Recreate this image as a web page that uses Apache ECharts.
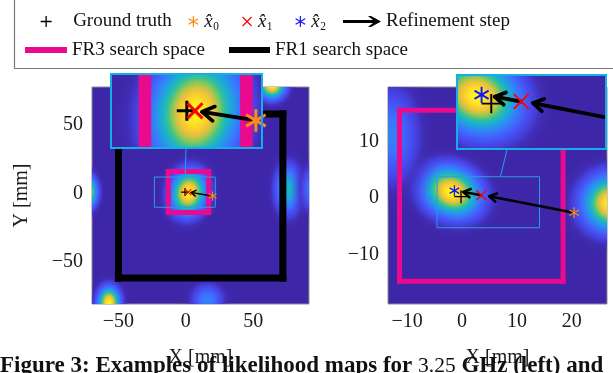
<!DOCTYPE html>
<html><head><meta charset="utf-8">
<script src="https://cdn.jsdelivr.net/npm/echarts@6/dist/echarts.min.js"></script>
<style>html,body{margin:0;padding:0;background:#fff}#c{width:613px;height:373px}</style>
</head><body><div id="c"></div>
<script>
// ---------------- data ----------------
const leftXTicks = [-50, 0, 50];
const leftYTicks = [-50, 0, 50];
const rightXTicks = [-10, 0, 10, 20];
const rightYTicks = [-10, 0, 10];

const leftXRange = [-69.6, 91.4];
const leftYRange = [-81.0, 77.8];
const rightXRange = [-13.5, 26.4];
const rightYRange = [-18.7, 19.6];
const leftZoomX = [-23.3, 21.9];
const leftZoomY = [-10.2, 11.9];
const rightZoomX = [-4.56, 14.1];
const rightZoomY = [-5.24, 3.76];
const leftLinkX = [-0.6, -0.85];   // [main, inset] x of connector (mm)
const rightLinkX = [6.97, 1.74];

// likelihood peaks (mm): centre, spread, tilt, peak level
const leftBlobX = [2, -73, -57, 64, 76, 16, 96];
const leftBlobY = [0.5, 1, -80, 79, 3, -78, 3];
const leftBlobSx = [8, 4.5, 5, 6, 6, 7, 6];
const leftBlobSy = [10, 7, 7, 6, 11, 7, 10];
const leftBlobAngle = [-10, 0, 0, 0, 0, 0, 0];
const leftBlobPeak = [1, 0.9, 1, 1, 0.5, 0.3, 0.35];

const rightBlobX = [-1.9, 27.2, -13];
const rightBlobY = [1.1, -0.9, 11];
const rightBlobSx = [3.3, 3.2, 3];
const rightBlobSy = [2.6, 3.0, 5];
const rightBlobAngle = [-25, 0, 0];
const rightBlobPeak = [1, 1, 0.3];

// search spaces (mm)
const fr1X = [-50, 72, 72, -50, -50];
const fr1Y = [58, 58, -62, -62, 58];
const leftFr3X = [-13.0, 17.0, 17.0, -13.0, -13.0];
const leftFr3Y = [15.9, 15.9, -14.0, -14.0, 15.9];
const rightFr3X = [-11.4, 18.4, 18.4, -11.4, -11.4];
const rightFr3Y = [15.5, 15.5, -14.7, -14.7, 15.5];

// estimates (mm)
const leftTruthX = [-0.6], leftTruthY = [0.9];
const leftEst0X = [19.8], leftEst0Y = [-1.9];
const leftEst1X = [1.8], leftEst1Y = [0.9];
const leftStepX0 = [19.8], leftStepY0 = [-1.9], leftStepX1 = [3.9], leftStepY1 = [0.6];

const rightTruthX = [-0.2], rightTruthY = [0.25];
const rightEst0X = [20.4], rightEst0Y = [-2.6];
const rightEst1X = [3.5], rightEst1Y = [0.5];
const rightEst2X = [-1.4], rightEst2Y = [1.3];
const rightStepX0 = [20.4, 3.5], rightStepY0 = [-2.6, 0.5];
const rightStepX1 = [4.96, 0.24], rightStepY1 = [0.32, 1.07];

// ---------------- style ----------------
const FONT = "'Liberation Serif','DejaVu Serif','Times New Roman',serif";
const MAG = '#ea0a8e', ORANGE = '#ff8a14', RED = '#ff0000', BLUE = '#1414ff';
const BG = '#3e26a8', CYAN = '#14aee8', LINK = '#2f9ddc';
const PLUS = 'path://M0,-1L0,1M-1,0L1,0';
const CROSS = 'path://M-1,-1L1,1M-1,1L1,-1';
const STAR = 'path://M0,-1L0,1M-0.866,-0.5L0.866,0.5M-0.866,0.5L0.866,-0.5';
const ARROW = 'path://M0,4.5L30,4.5L25,0.5L28,0.5L38,6L28,11.5L25,11.5L30,7.5L0,7.5Z';

const PAR = [[0,62,38,168],[0.11,71,71,235],[0.24,62,111,255],[0.37,39,150,235],[0.49,24,180,200],[0.6,60,195,140],[0.7,150,200,80],[0.8,235,190,60],[0.9,252,210,45],[1,249,251,21]];
function parula(v){
  v = Math.max(0, Math.min(1, v));
  for (let i = 1; i < PAR.length; i++) {
    if (v <= PAR[i][0]) {
      const a = PAR[i-1], b = PAR[i], t = (v - a[0]) / (b[0] - a[0]);
      return [0,1,2].map(j => Math.round(a[j+1] + (b[j+1] - a[j+1]) * t));
    }
  }
  return PAR[PAR.length-1].slice(1);
}
function blobGradient(p){
  const stops = [], N = 24;
  for (let k = 0; k <= N; k++) {
    const t = k / N, d = 3 * t, v = p * Math.exp(-d * d / 2);
    const c = parula(v), a = Math.min(1, v / 0.07);
    stops.push({offset: t, color: `rgba(${c[0]},${c[1]},${c[2]},${a.toFixed(3)})`});
  }
  return new echarts.graphic.RadialGradient(0.5, 0.5, 0.5, stops);
}
function clipOf(cs){ return {type:'rect', shape:{x:cs.x, y:cs.y, width:cs.width, height:cs.height}}; }

function bgSeries(g, z, border){
  return {type:'custom', xAxisIndex:g, yAxisIndex:g, z, silent:true, animation:false, data:[[0,0]],
    renderItem(params){
      const cs = params.coordSys;
      return {type:'rect', shape:{x:cs.x, y:cs.y, width:cs.width, height:cs.height},
        style:{fill:BG, stroke: border ? '#8c8c8c' : null, lineWidth: 1}};
    }};
}
function blobSeries(g, X, Y, SX, SY, A, P, z){
  return {type:'custom', xAxisIndex:g, yAxisIndex:g, z, silent:true, animation:false,
    data: X.map((x,i) => [x, Y[i], SX[i], SY[i], A[i], P[i]]),
    renderItem(params, api){
      const c = api.coord([api.value(0), api.value(1)]);
      const s = api.size([api.value(2), api.value(3)]);
      return {type:'group', clipPath: clipOf(params.coordSys), children:[
        {type:'circle', shape:{cx:0, cy:0, r:3}, x:c[0], y:c[1], scaleX:Math.abs(s[0]), scaleY:Math.abs(s[1]),
         rotation: api.value(4) * Math.PI / 180, style:{fill: blobGradient(api.value(5))}}]};
    }};
}
// closed outline drawn segment by segment, clipped exactly to the plot area
function pathSeries(g, name, X, Y, color, width, z){
  return {type:'custom', name, xAxisIndex:g, yAxisIndex:g, z, silent:true, animation:false,
    data: X.map((x,i) => [x, Y[i]]),
    renderItem(params, api){
      const i = params.dataIndex;
      if (i >= X.length - 1) return {type:'group', children:[]};
      const p0 = api.coord([api.value(0), api.value(1)]);
      const p1 = api.coord([X[i+1], Y[i+1]]);
      return {type:'group', clipPath: clipOf(params.coordSys), children:[
        {type:'line', shape:{x1:p0[0], y1:p0[1], x2:p1[0], y2:p1[1]}, style:{stroke:color, lineWidth:width, lineCap:'square'}}]};
    }};
}
function markerSeries(g, name, X, Y, symbol, size, color, lw, z){
  return {type:'scatter', name, xAxisIndex:g, yAxisIndex:g, z, silent:true, animation:false, clip:true,
    symbol, symbolSize:size, symbolKeepAspect:true, data: X.map((x,i) => [x, Y[i]]),
    itemStyle:{color:'rgba(0,0,0,0)', borderColor:color, borderWidth:lw, opacity:1}};
}
function arrowSeries(g, X0, Y0, X1, Y1, w, head, z){
  return {type:'custom', name:'Refinement step', xAxisIndex:g, yAxisIndex:g, z, silent:true, animation:false,
    data: X0.map((x,i) => [x, Y0[i], X1[i], Y1[i]]),
    renderItem(params, api){
      const p0 = api.coord([api.value(0), api.value(1)]);
      const p1 = api.coord([api.value(2), api.value(3)]);
      const dx = p1[0]-p0[0], dy = p1[1]-p0[1], L = Math.hypot(dx, dy), ux = dx/L, uy = dy/L;
      const a = 0.55, ca = Math.cos(a), sa = Math.sin(a);
      const h1 = [p1[0] - head*(ux*ca - uy*sa), p1[1] - head*(uy*ca + ux*sa)];
      const h2 = [p1[0] - head*(ux*ca + uy*sa), p1[1] - head*(uy*ca - ux*sa)];
      const st = {stroke:'#000', lineWidth:w, lineCap:'round', lineJoin:'round', fill:null};
      return {type:'group', clipPath: clipOf(params.coordSys), children:[
        {type:'polyline', shape:{points:[p0, p1]}, style:st},
        {type:'polyline', shape:{points:[h1, p1, h2]}, style:st}]};
    }};
}
function rectData(xr, yr){ return [[xr[0],yr[1]],[xr[1],yr[1]],[xr[1],yr[0]],[xr[0],yr[0]],[xr[0],yr[1]]]; }

const fmt = v => v < 0 ? '\u2212' + Math.abs(v) : String(v);
function xAxisOf(g, r, ticks, name){
  const shown = !!ticks;
  return {gridIndex:g, type:'value', min:r[0], max:r[1], axisLine:{show:false}, axisTick:{show:false}, splitLine:{show:false},
    axisLabel: shown ? {customValues: ticks, formatter: fmt, fontSize:20, fontFamily:FONT, color:'#1a1a1a', margin:8} : {show:false},
    name: name || '', nameLocation:'middle', nameGap:44, nameTextStyle:{fontSize:20, fontFamily:FONT, color:'#1a1a1a'}};
}
function yAxisOf(g, r, ticks, name){
  const shown = !!ticks;
  return {gridIndex:g, type:'value', min:r[0], max:r[1], axisLine:{show:false}, axisTick:{show:false}, splitLine:{show:false},
    axisLabel: shown ? {customValues: ticks, formatter: fmt, fontSize:20, fontFamily:FONT, color:'#1a1a1a', margin:9} : {show:false},
    name: name || '', nameLocation:'middle', nameGap:60, nameRotate:90, nameTextStyle:{fontSize:20, fontFamily:FONT, color:'#1a1a1a'}};
}

// panel builder: k = magnification of the inset
function panel(g, k, zb, st, d){
  const s = [];
  s.push(bgSeries(g, zb, k === 1));
  s.push(blobSeries(g, d.bx, d.by, d.bsx, d.bsy, d.ba, d.bp, zb+1));
  s.push(pathSeries(g, 'FR1 search space', fr1X, fr1Y, '#000', st.fr1*k, zb+2));
  s.push(pathSeries(g, 'FR3 search space', d.f3x, d.f3y, MAG, st.fr3*k, zb+2));
  s.push(arrowSeries(g, d.sx0, d.sy0, d.sx1, d.sy1, st.aw*k, st.ah*k, zb+4));
  s.push(markerSeries(g, 'Ground truth', d.tx, d.ty, PLUS, st.plus*k, '#000', st.lw*k, zb+5));
  s.push(markerSeries(g, 'x0', d.e0x, d.e0y, STAR, st.star*k, ORANGE, st.lw*k, zb+5));
  s.push(markerSeries(g, 'x1', d.e1x, d.e1y, CROSS, st.cross*k, RED, st.lw*k, zb+5));
  if (d.e2x) s.push(markerSeries(g, 'x2', d.e2x, d.e2y, STAR, st.star*k, BLUE, st.lw*k, zb+5));
  return s;
}
const leftD = {bx:leftBlobX, by:leftBlobY, bsx:leftBlobSx, bsy:leftBlobSy, ba:leftBlobAngle, bp:leftBlobPeak,
  f3x:leftFr3X, f3y:leftFr3Y,
  sx0:leftStepX0, sy0:leftStepY0, sx1:leftStepX1, sy1:leftStepY1,
  tx:leftTruthX, ty:leftTruthY, e0x:leftEst0X, e0y:leftEst0Y, e1x:leftEst1X, e1y:leftEst1Y};
const rightD = {bx:rightBlobX, by:rightBlobY, bsx:rightBlobSx, bsy:rightBlobSy, ba:rightBlobAngle, bp:rightBlobPeak,
  f3x:rightFr3X, f3y:rightFr3Y,
  sx0:rightStepX0, sy0:rightStepY0, sx1:rightStepX1, sy1:rightStepY1,
  tx:rightTruthX, ty:rightTruthY, e0x:rightEst0X, e0y:rightEst0Y, e1x:rightEst1X, e1y:rightEst1Y, e2x:rightEst2X, e2y:rightEst2Y};
const leftSt = {fr1:7, fr3:5, aw:1.5, ah:5.5, plus:8, star:9, cross:6, lw:1.2};
const rightSt = {fr1:7, fr3:5, aw:2.6, ah:8, plus:13, star:11, cross:10, lw:1.3};

const series = [].concat(
  panel(0, 1, 1, leftSt, leftD),
  [{type:'line', xAxisIndex:0, yAxisIndex:0, z:4, silent:true, animation:false, symbol:'none', data: rectData(leftZoomX, leftZoomY), lineStyle:{color:LINK, width:1}}],
  panel(1, 2.51, 20, leftSt, leftD),
  panel(2, 1, 1, rightSt, rightD),
  [{type:'line', xAxisIndex:2, yAxisIndex:2, z:4, silent:true, animation:false, symbol:'none', data: rectData(rightZoomX, rightZoomY), lineStyle:{color:LINK, width:1}}],
  panel(3, 1.48, 20, rightSt, rightD)
);

const legendText = {fontSize:19, fontFamily:FONT, color:'#111',
  rich:{i:{fontSize:19, fontFamily:FONT, fontStyle:'italic', color:'#111'}, n:{fontSize:19, fontFamily:FONT, color:'#111'}}};
const hatName = {x0:'{i|x\u0302}{n|\u2080}', x1:'{i|x\u0302}{n|\u2081}', x2:'{i|x\u0302}{n|\u2082}'};
function leg(left, top, w, h, item){
  return {left, top, padding:0, itemWidth:w, itemHeight:h, selectedMode:false, orient:'horizontal',
    textStyle: legendText, formatter: n => hatName[n] || n, data:[item]};
}
const mk = (c, lw) => ({color:'rgba(0,0,0,0)', borderColor:c, borderWidth:lw});
const legend = [
  leg(40, 12, 44, 11, {name:'Ground truth', icon:PLUS, itemStyle: mk('#000', 1.3)}),
  leg(188, 12, 12, 11, {name:'x0', icon:STAR, itemStyle: mk(ORANGE, 1.2)}),
  leg(242, 12, 12, 9, {name:'x1', icon:CROSS, itemStyle: mk(RED, 1.2)}),
  leg(295, 12, 12, 11, {name:'x2', icon:STAR, itemStyle: mk(BLUE, 1.2)}),
  leg(343, 12, 38, 12, {name:'Refinement step', icon:ARROW, itemStyle:{color:'#000', borderWidth:0}}),
  leg(25, 40.5, 42, 6, {name:'FR3 search space', icon:'rect', itemStyle:{color:MAG, borderWidth:0}}),
  leg(229, 40.5, 41, 6, {name:'FR1 search space', icon:'rect', itemStyle:{color:'#000', borderWidth:0}})
];

const option = {
  animation:false,
  backgroundColor:'#fff',
  legend,
  grid:[
    {left:92, top:87, width:217, height:217},
    {left:110, top:73, width:153, height:76},
    {left:388, top:87, width:219, height:217},
    {left:456, top:74, width:151, height:76}
  ],
  xAxis:[xAxisOf(0, leftXRange, leftXTicks, 'X [mm]'), xAxisOf(1, leftZoomX), xAxisOf(2, rightXRange, rightXTicks, 'X [mm]'), xAxisOf(3, rightZoomX)],
  yAxis:[yAxisOf(0, leftYRange, leftYTicks, 'Y [mm]'), yAxisOf(1, leftZoomY), yAxisOf(2, rightYRange, rightYTicks), yAxisOf(3, rightZoomY)],
  series
};
const chart = echarts.init(document.getElementById('c'), null, {renderer:'canvas'});
chart.setOption(option);

// annotations: legend frame, inset frames, connectors, caption
const pL0 = chart.convertToPixel({gridIndex:0}, [leftLinkX[0], leftZoomY[1]]);
const pL1 = chart.convertToPixel({gridIndex:1}, [leftLinkX[1], leftZoomY[0]]);
const pR0 = chart.convertToPixel({gridIndex:2}, [rightLinkX[0], rightZoomY[1]]);
const pR1 = chart.convertToPixel({gridIndex:3}, [rightLinkX[1], rightZoomY[0]]);
chart.setOption({graphic:[
  {type:'rect', z:100, silent:true, shape:{x:14.5, y:-2, width:700, height:70.5}, style:{fill:null, stroke:'#7a7a7a', lineWidth:1.2}},
  {type:'line', z:100, silent:true, shape:{x1:pL0[0], y1:pL0[1], x2:pL1[0], y2:pL1[1]}, style:{stroke:LINK, lineWidth:1}},
  {type:'line', z:100, silent:true, shape:{x1:pR0[0], y1:pR0[1], x2:pR1[0], y2:pR1[1]}, style:{stroke:LINK, lineWidth:1}},
  {type:'rect', z:100, silent:true, shape:{x:111, y:74, width:151, height:74}, style:{fill:null, stroke:CYAN, lineWidth:2}},
  {type:'rect', z:100, silent:true, shape:{x:457, y:75, width:149, height:74}, style:{fill:null, stroke:CYAN, lineWidth:2}},
  {type:'text', z:100, silent:true, x:0, y:366, style:{
    text:'{b|Figure 3: Examples of likelihood maps for }{n|3.25}{b| GHz (left) and}',
    verticalAlign:'middle',
    rich:{b:{fontSize:23, fontWeight:'bold', fontFamily:FONT, fill:'#111'}, n:{fontSize:21.5, fontFamily:FONT, fill:'#111'}}}}
]});
</script></body></html>
